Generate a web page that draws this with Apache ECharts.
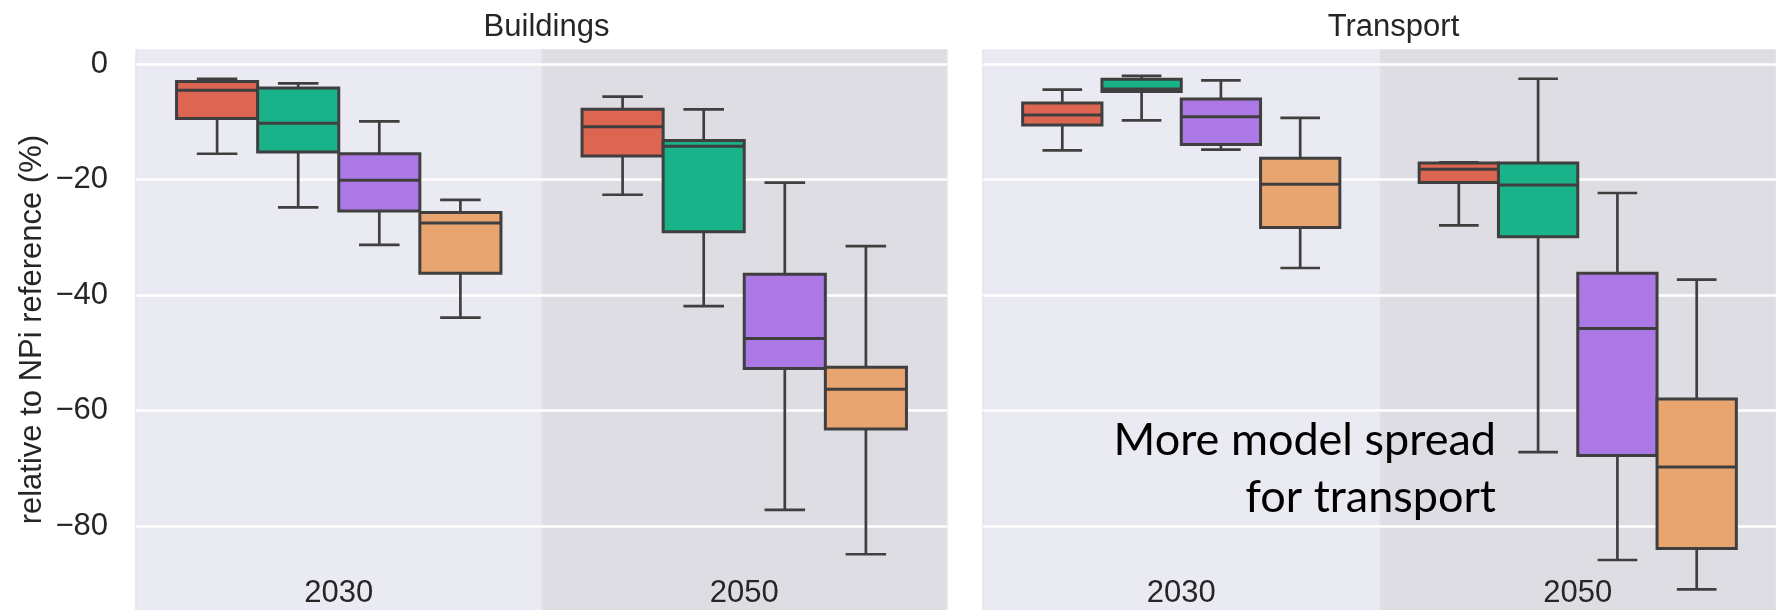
<!DOCTYPE html>
<html>
<head>
<meta charset="utf-8">
<title>Buildings and transport reductions</title>
<script src="https://cdn.jsdelivr.net/npm/echarts@6/dist/echarts.min.js"></script>
<style>
  html, body { margin: 0; padding: 0; background: #ffffff; }
  #chart { width: 1776px; height: 610px; }
</style>
</head>
<body>
<div id="chart"></div>
<script>
// ---- data -------------------------------------------------------------
const years = ['2030', '2050'];
const panelTitles = ['Buildings', 'Transport'];
const yTickValues = [0, -20, -40, -60, -80];
const yLabel = 'relative to NPi reference (%)';
const noteLines = ['More model spread', 'for transport'];

// five-number summaries per year: [lower whisker, Q1, median, Q3, upper whisker]
const buildingsA = [[-15.5, -9.4, -4.5, -3.0, -2.5], [-22.6, -15.9, -10.8, -7.8, -5.6]];
const buildingsB = [[-24.8, -15.2, -10.2, -4.1, -3.3], [-41.9, -29.0, -14.2, -13.2, -7.8]];
const buildingsC = [[-31.3, -25.4, -20.1, -15.5, -9.9], [-77.2, -52.7, -47.5, -36.4, -20.5]];
const buildingsD = [[-43.9, -36.2, -27.5, -25.7, -23.5], [-84.9, -63.2, -56.3, -52.5, -31.5]];

const transportA = [[-14.9, -10.5, -8.8, -6.7, -4.4], [-27.9, -20.5, -18.2, -17.1, -17.0]];
const transportB = [[-9.7, -4.7, -4.3, -2.6, -2.0], [-67.2, -29.9, -20.9, -17.1, -2.5]];
const transportC = [[-14.8, -13.9, -9.1, -6.0, -2.8], [-85.9, -67.8, -45.8, -36.2, -22.3]];
const transportD = [[-35.3, -28.3, -20.8, -16.3, -9.3], [-91.0, -83.9, -69.8, -58.0, -37.3]];

// ---- styling / layout ---------------------------------------------------
const boxColors = ['#DC6652', '#1AB389', '#AB78E6', '#E9A56F'];
const EDGE = '#3F3F3F';
const TEXT = '#262626';
const FONT = '"Liberation Sans", Arial, sans-serif';
const Y_MIN = -94.56;
const Y_MAX = 2.6;
const BOX_FRAC = 0.2;   // each box takes a fifth of a year band
const PANEL_LEFT = [136, 983];
const PANEL_WIDTH = 811;
const PANEL_TOP = 49.3;

const fmtTick = v => (v < 0 ? '\u2212' + Math.abs(v) : String(v));

function boxSeries(rows, k, panel) {
  return {
    type: 'custom',
    xAxisIndex: panel,
    yAxisIndex: panel,
    clip: true,
    z: 5,
    data: rows.map((r, i) => [i].concat(r)),
    encode: { x: 0, y: [1, 2, 3, 4, 5] },
    renderItem: function (params, api) {
      const xi = api.value(0);
      const band = api.size([1, 0])[0];
      const w = BOX_FRAC * band;
      const cx = api.coord([xi, 0])[0] + (k - 1.5) * w;
      const y = j => api.coord([xi, api.value(j)])[1];
      const yMin = y(1), yQ1 = y(2), yMed = y(3), yQ3 = y(4), yMax = y(5);
      const seg = (x1, y1, x2, y2) => ({
        type: 'line',
        shape: { x1: x1, y1: y1, x2: x2, y2: y2 },
        style: { stroke: EDGE, lineWidth: 2.7 }
      });
      return {
        type: 'group',
        children: [
          seg(cx, yMax, cx, yQ3),
          seg(cx, yQ1, cx, yMin),
          seg(cx - w / 4, yMax, cx + w / 4, yMax),
          seg(cx - w / 4, yMin, cx + w / 4, yMin),
          {
            type: 'rect',
            shape: { x: cx - w / 2, y: yQ3, width: w, height: yQ1 - yQ3 },
            style: { fill: boxColors[k], stroke: EDGE, lineWidth: 3 }
          },
          {
            type: 'line',
            shape: { x1: cx - w / 2, y1: yMed, x2: cx + w / 2, y2: yMed },
            style: { stroke: EDGE, lineWidth: 3 }
          }
        ]
      };
    }
  };
}

function makeXAxis(i) {
  return {
    gridIndex: i,
    type: 'category',
    data: years,
    boundaryGap: true,
    axisLine: { show: false },
    axisTick: { show: false },
    axisLabel: { inside: true, margin: 1, color: TEXT, fontSize: 31, fontFamily: FONT },
    splitLine: { show: true, lineStyle: { color: '#E3E3EA', width: 1.5 } },
    splitArea: { show: true, areaStyle: { color: ['#EAEAF2', '#DEDDE3'] } },
    z: 0
  };
}

function makeYAxis(i) {
  return {
    gridIndex: i,
    type: 'value',
    min: Y_MIN,
    max: Y_MAX,
    z: 2,
    axisLine: { show: false },
    axisTick: { show: false, customValues: yTickValues },
    axisLabel: {
      show: i === 0,
      customValues: yTickValues,
      formatter: fmtTick,
      color: TEXT,
      fontSize: 31,
      fontFamily: FONT,
      margin: 28
    },
    splitLine: { show: true, lineStyle: { color: '#FFFFFF', width: 2.5 } },
    name: i === 0 ? yLabel : '',
    nameLocation: 'middle',
    nameRotate: 90,
    nameGap: 88,
    nameTextStyle: { color: TEXT, fontSize: 31, fontFamily: FONT }
  };
}

const chart = echarts.init(document.getElementById('chart'), null, { renderer: 'canvas' });

const option = {
  backgroundColor: '#FFFFFF',
  animation: false,
  title: panelTitles.map((t, i) => ({
    text: t,
    left: PANEL_LEFT[i] + PANEL_WIDTH / 2,
    top: 7,
    textAlign: 'center',
    textStyle: { color: TEXT, fontSize: 31, fontWeight: 'normal', fontFamily: FONT }
  })),
  grid: PANEL_LEFT.map(l => ({
    left: l,
    top: PANEL_TOP,
    width: PANEL_WIDTH,
    bottom: 0,
    containLabel: false
  })),
  xAxis: [makeXAxis(0), makeXAxis(1)],
  yAxis: [makeYAxis(0), makeYAxis(1)],
  series: [
    boxSeries(buildingsA, 0, 0),
    boxSeries(buildingsB, 1, 0),
    boxSeries(buildingsC, 2, 0),
    boxSeries(buildingsD, 3, 0),
    boxSeries(transportA, 0, 1),
    boxSeries(transportB, 1, 1),
    boxSeries(transportC, 2, 1),
    boxSeries(transportD, 3, 1)
  ],
  graphic: noteLines.map((line, i) => ({
    type: 'text',
    right: 1776 - 1496,
    top: 418 + i * 57,
    z: 100,
    style: {
      text: line,
      fill: '#000000',
      font: '45px Lato, "Open Sans", sans-serif',
      textAlign: 'right'
    }
  }))
};

chart.setOption(option);
</script>
</body>
</html>
